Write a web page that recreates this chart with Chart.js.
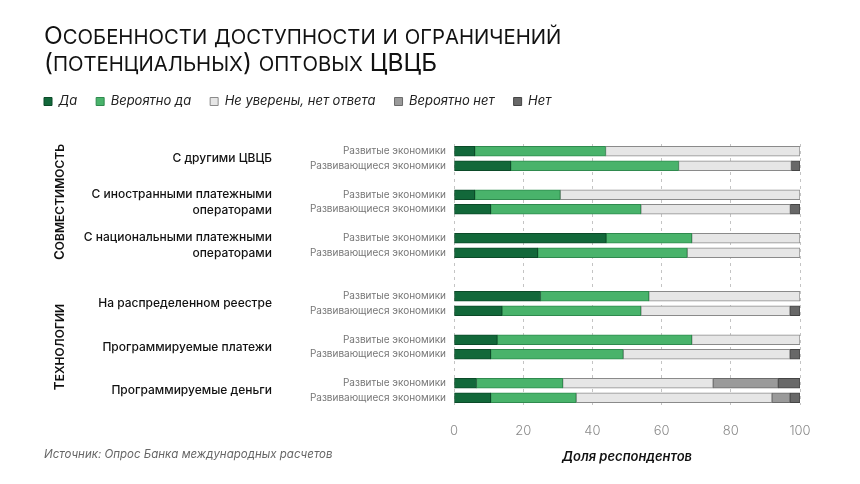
<!DOCTYPE html>
<html>
<head>
<meta charset="utf-8">
<script src="https://cdn.jsdelivr.net/npm/chart.js@4"></script>
<style>
  html, body { margin: 0; padding: 0; background: #fff; }
  #wrap { width: 860px; height: 484px; }
</style>
</head>
<body>
<div id="wrap"><canvas id="chart" width="860" height="484"></canvas></div>
<script>
// chart data
const titleLines = ['Особенности доступности и ограничений', '(потенциальных) оптовых ЦВЦБ'];
const sourceText = 'Источник: Опрос Банка международных расчетов';
const axisTitle = 'Доля респондентов';
const groups = ['Совместимость', 'Технологии'];
const groupCats = [3, 3]; // how many categories in each group
const cats = [
  'С другими ЦВЦБ',
  ['С иностранными платежными', 'операторами'],
  ['С национальными платежными', 'операторами'],
  'На распределенном реестре',
  'Программируемые платежи',
  'Программируемые деньги'
];
const economies = ['Развитые экономики', 'Развивающиеся экономики'];
const seriesNames = ['Да', 'Вероятно да', 'Не уверены, нет ответа', 'Вероятно нет', 'Нет'];
const xTicks = [0, 20, 40, 60, 80, 100];

// one value per bar, order: cat1 developed, cat1 developing, cat2 ...
const da     = [6, 16.4, 6, 10.6, 44, 24.2, 25, 13.9, 12.5, 10.6, 6.5, 10.6];
const verDa  = [37.8, 48.5, 24.7, 43.4, 24.7, 43.2, 31.3, 40.1, 56.2, 38.3, 24.9, 24.7];
const neUver = [56.2, 32.6, 69.3, 43.2, 31.3, 32.6, 43.7, 43.1, 31.3, 48.2, 43.5, 56.6];
const verNet = [0, 0, 0, 0, 0, 0, 0, 0, 0, 0, 18.8, 5.2];
const net    = [0, 2.5, 0, 2.8, 0, 0, 0, 2.9, 0, 2.9, 6.3, 2.9];

const colors  = ['#12683a', '#49b36b', '#e6e6e6', '#9a9a9a', '#686868'];
const borders = ['#0b4a28', '#2f8a4e', '#8a8a8a', '#6a6a6a', '#444444'];

// build the slot list of the category axis (blank slots make the gaps)
const slotLabels = [];
const slotBar = [];     // index into the value arrays, or -1 for a gap
const catStart = [];    // first slot of each category
let bar = 0, ci = 0;
function blank() { slotLabels.push(''); slotBar.push(-1); }
groups.forEach((g, gi) => {
  if (gi > 0) { blank(); blank(); }
  for (let k = 0; k < groupCats[gi]; k++) {
    if (k > 0) blank();
    catStart[ci++] = slotLabels.length;
    economies.forEach(e => { slotLabels.push(e); slotBar.push(bar++); });
  }
});

const allSeries = [da, verDa, neUver, verNet, net];
const datasets = allSeries.map((vals, i) => ({
  label: seriesNames[i],
  data: slotBar.map(b => (b < 0 || !vals[b]) ? null : vals[b]),
  backgroundColor: colors[i],
  borderColor: borders[i],
  borderWidth: 1,
  borderSkipped: false,
  barThickness: 10
}));

const FONT = 'Inter, "Open Sans", sans-serif';

// small caps by hand: capitals full size, lower case letters as smaller capitals
function smallCaps(c, text, x, y, big, small, weight, measureOnly) {
  let cx = x;
  for (const ch of text) {
    const up = ch.toUpperCase();
    c.font = weight + ' ' + (ch !== up ? small : big) + 'px ' + FONT;
    if (!measureOnly) c.fillText(up, cx, y);
    cx += c.measureText(up).width;
  }
  return cx - x;
}

const sidePlugin = {
  id: 'side',
  beforeInit(chart) {
    // extra room under the legend
    const fit = chart.legend.fit;
    chart.legend.fit = function () { fit.call(this); this.height += 26; };
  },
  afterDraw(chart) {
    const c = chart.ctx;
    const y = chart.scales.y;
    c.save();
    // title
    c.fillStyle = '#111';
    c.textAlign = 'left';
    c.textBaseline = 'alphabetic';
    titleLines.forEach((t, i) => smallCaps(c, t, 44, 44 + i * 27, 24.5, 20.3, 400));
    // category labels
    c.font = '500 12px ' + FONT;
    c.textAlign = 'right';
    c.textBaseline = 'middle';
    cats.forEach((cat, i) => {
      const s = catStart[i];
      const mid = (y.getPixelForValue(s) + y.getPixelForValue(s + 1)) / 2;
      const lines = Array.isArray(cat) ? cat : [cat];
      lines.forEach((l, j) => c.fillText(l, 272, mid + (j - (lines.length - 1) / 2) * 16));
    });
    // group labels
    let first = 0;
    c.textAlign = 'left';
    groups.forEach((g, gi) => {
      const last = first + groupCats[gi] - 1;
      const top = y.getPixelForValue(catStart[first]);
      const bot = y.getPixelForValue(catStart[last] + 1);
      const w = smallCaps(c, g, 0, 0, 13.5, 12, 600, true);
      c.save();
      c.translate(60, (top + bot) / 2);
      c.rotate(-Math.PI / 2);
      smallCaps(c, g, -w / 2, 0, 13.5, 12, 600);
      c.restore();
      first = last + 1;
    });
    // source
    c.font = 'italic 400 11.5px ' + FONT;
    c.fillStyle = '#666';
    c.textAlign = 'left';
    c.fillText(sourceText, 44, 455);
    c.restore();
  }
};

new Chart(document.getElementById('chart'), {
  type: 'bar',
  data: { labels: slotLabels, datasets: datasets },
  options: {
    indexAxis: 'y',
    responsive: false,
    animation: false,
    layout: { padding: { left: 25, right: 60, top: 76, bottom: 19 } },
    plugins: {
      legend: {
        position: 'top',
        align: 'start',
        labels: {
          boxWidth: 8,
          boxHeight: 8,
          padding: 19,
          color: '#222',
          font: { family: FONT, size: 13, style: 'italic' }
        }
      },
      tooltip: { enabled: false }
    },
    scales: {
      x: {
        stacked: true,
        min: 0,
        max: 100,
        afterBuildTicks(scale) { scale.ticks = xTicks.map(v => ({ value: v })); },
        afterFit(scale) { scale.height = 60; },
        grid: { color: '#c4c4c4', drawTicks: false, tickLength: 0 },
        border: { display: false, dash: [3, 4] },
        ticks: { color: '#8a8a8a', padding: 18, font: { family: FONT, size: 13, weight: '300' } },
        title: {
          display: true,
          text: axisTitle,
          color: '#111',
          padding: { top: 0, bottom: 0 },
          font: { family: FONT, size: 13, style: 'italic', weight: '600' }
        }
      },
      y: {
        stacked: true,
        afterFit(scale) { scale.width = 429; },
        grid: { display: false },
        border: { display: false },
        ticks: { color: '#777', padding: 0, autoSkip: false, font: { family: FONT, size: 10 } }
      }
    }
  },
  plugins: [sidePlugin]
});
</script>
</body>
</html>
